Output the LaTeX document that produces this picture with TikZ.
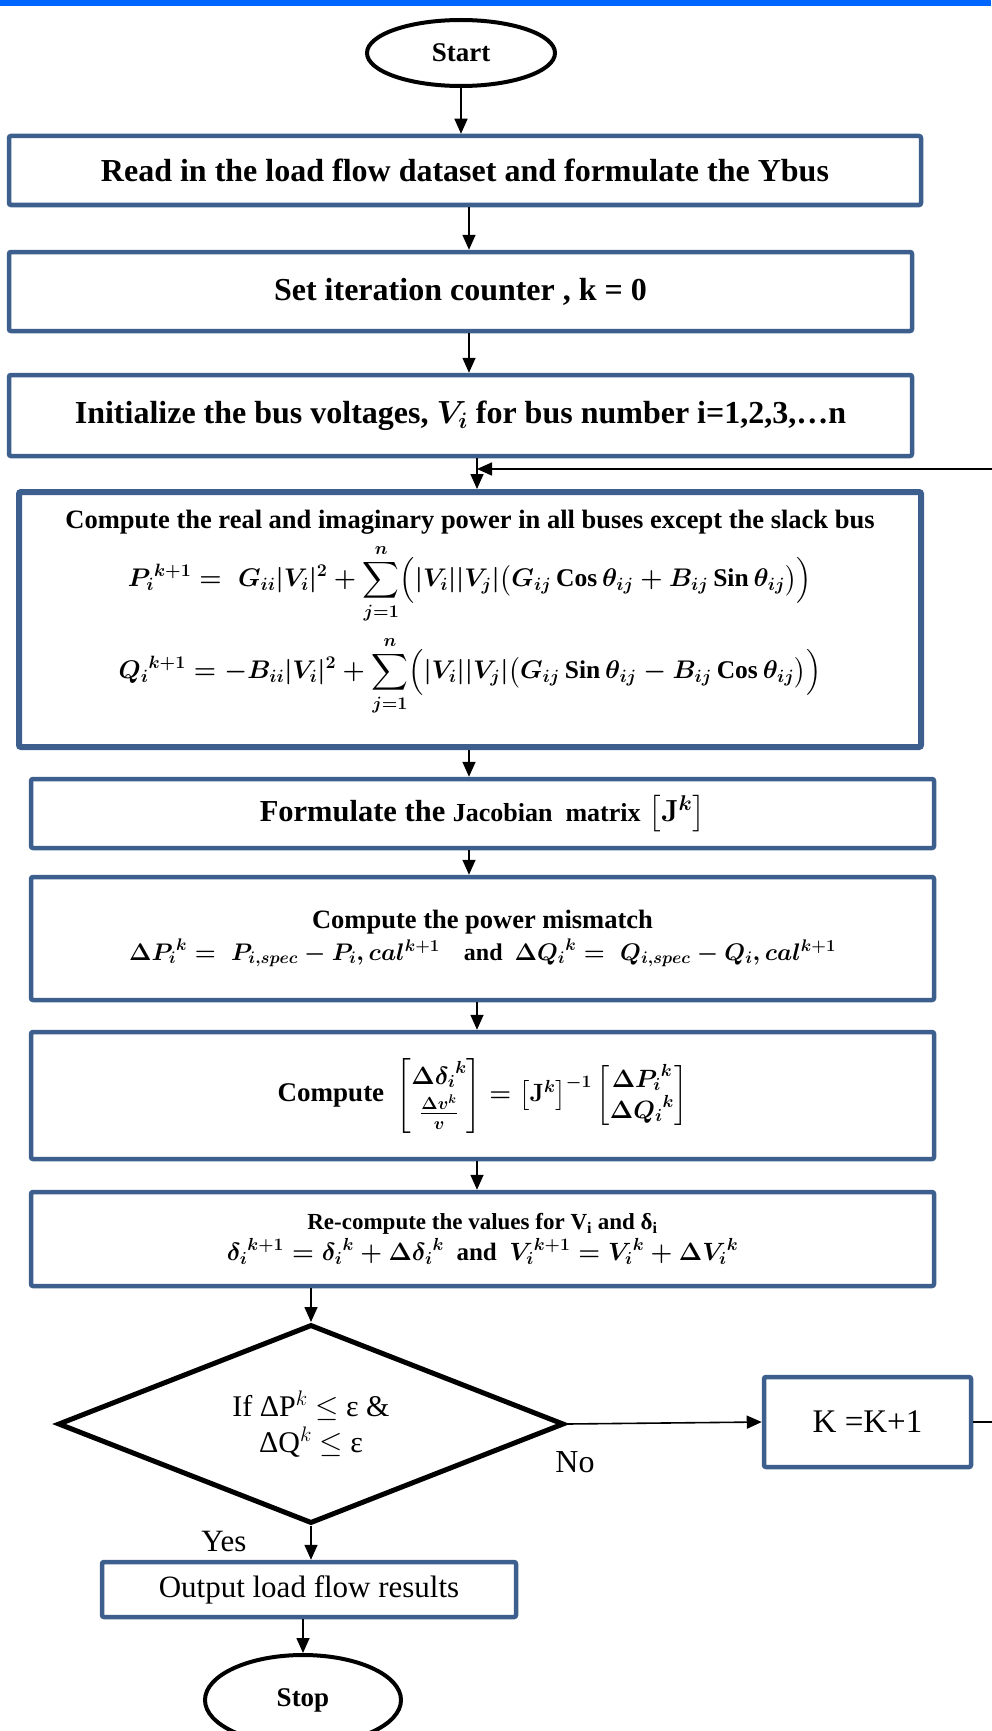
\documentclass[tikz,border=0pt]{standalone}
\usepackage{fix-cm}
\usepackage{amsmath,amssymb}
\usepackage{fontspec}
\setmainfont{Liberation Serif}
\usetikzlibrary{arrows.meta,shapes.geometric}
\definecolor{boxblue}{HTML}{3C5F8E}
\definecolor{barblue}{HTML}{0066FF}
\tikzset{
  stepbox/.style={
    draw=boxblue,
    line width=4.5pt,
    rounded corners=2pt,
    fill=white,
    align=center,
    inner sep=0pt,
    font=\bfseries\boldmath
  },
  termin/.style={
    shape=ellipse,
    draw,
    line width=4pt,
    inner sep=0pt,
    font=\fontsize{27}{30}\selectfont\bfseries
  },
  decision/.style={
    shape=diamond,
    shape aspect=2.5,
    draw,
    line width=5pt,
    inner sep=0pt,
    align=center,
    font=\fontsize{30}{36}\selectfont
  },
  eqline/.style={
    inner sep=0pt,
    font=\fontsize{25.5}{30}\selectfont\bfseries\boldmath
  },
  flow/.style={
    line width=1.6pt,
    -{Triangle[length=15pt,width=13pt]}
  },
  every picture/.style={
    x=1pt,
    y=-1pt
  }
}
\begin{document}
\begin{tikzpicture}
  \useasboundingbox (0,0) rectangle (991,1731);
  \fill[barblue] (0,0) rectangle (991,6);
  % columns for the arrows
  \coordinate (c1) at (469,0);
  \coordinate (c2) at (477,0);
  \coordinate (join) at (477,469);
  \coordinate (loopR) at (1000,469);

  \node[termin,minimum width=188pt,minimum height=66pt] (start) at (461,53) {Start};
  \node[stepbox,minimum width=912pt,minimum height=69pt,font=\fontsize{32}{36}\selectfont\bfseries] (b1) at (465,170.5)
    {Read in the load flow dataset and formulate the Ybus};
  \node[stepbox,minimum width=903pt,minimum height=79pt,font=\fontsize{32}{36}\selectfont\bfseries\boldmath] (b2) at (460.5,291.5)
    {Set iteration counter , k = 0};
  \node[stepbox,minimum width=903pt,minimum height=81pt,font=\fontsize{32}{36}\selectfont\bfseries\boldmath] (b3) at (460.5,415.5)
    {Initialize the bus voltages, $V_i$ for bus number i=1,2,3,\dots n};
  \node[stepbox,line width=6pt,minimum width=902pt,minimum height=255pt] (b4) at (470,619.5) {};
  \node[eqline,font=\fontsize{26.5}{30}\selectfont\bfseries] (h4) at (470,522)
    {Compute the real and imaginary power in all buses except the slack bus};
  \node[eqline] (p4) at (470,584)
    {$\displaystyle {P_i}^{k+1} = \; G_{ii}|V_i|^2 + \sum_{j=1}^{n}\Bigl(|V_i||V_j|\bigl(G_{ij}\,\mathrm{Cos}\,\theta_{ij} + B_{ij}\,\mathrm{Sin}\,\theta_{ij}\bigr)\Bigr)$};
  \node[eqline] (q4) at (470,676)
    {$\displaystyle {Q_i}^{k+1} = -B_{ii}|V_i|^2 + \sum_{j=1}^{n}\Bigl(|V_i||V_j|\bigl(G_{ij}\,\mathrm{Sin}\,\theta_{ij} - B_{ij}\,\mathrm{Cos}\,\theta_{ij}\bigr)\Bigr)$};
  \node[stepbox,minimum width=903pt,minimum height=69pt,font=\fontsize{30.5}{34}\selectfont\bfseries\boldmath] (b5) at (482.5,813.5)
    {Formulate the {\fontsize{26}{30}\selectfont Jacobian\ \ matrix} $\bigl[\mathbf{J}^{k}\bigr]$};
  \node[stepbox,minimum width=903pt,minimum height=123pt,font=\fontsize{24}{32}\selectfont\bfseries\boldmath] (b6) at (482.5,938.5)
    {{\fontsize{26.5}{30}\selectfont Compute the power mismatch}\\
     $\Delta {P_i}^{k} = \; P_{i,spec} - P_i, cal^{k+1}$\quad and \ $\Delta {Q_i}^{k} = \; Q_{i,spec} - Q_i, cal^{k+1}$};
  \node[stepbox,minimum width=903pt,minimum height=127pt,font=\fontsize{25}{28}\selectfont\bfseries\boldmath] (b7) at (482.5,1095.5)
    {{\fontsize{27}{30}\selectfont Compute} \ $\begin{bmatrix}\Delta{\delta_i}^{k}\\[2pt] \frac{\Delta v^k}{v}\end{bmatrix} = \bigl[\mathbf{J}^{k}\bigr]^{-1}\begin{bmatrix}\Delta {P_i}^{k}\\ \Delta {Q_i}^{k}\end{bmatrix}$};
  \node[stepbox,minimum width=903pt,minimum height=94pt,font=\fontsize{25}{31}\selectfont\bfseries\boldmath] (b8) at (482.5,1239)
    {{\fontsize{23}{26}\selectfont Re-compute the values for V$_{\mathrm{i}}$ and δ$_{\mathrm{i}}$}\\
     ${\delta_i}^{k+1} = {\delta_i}^{k} + \Delta{\delta_i}^{k}$ \ and \ ${V_i}^{k+1} = {V_i}^{k} + \Delta{V_i}^{k}$};
  \node[decision,minimum width=506pt,minimum height=199pt] (test) at (311,1424)
    {If ΔP$^{k}$ $\leq$ ε \&\\ΔQ$^{k}$ $\leq$ ε};
  \node[stepbox,minimum width=207pt,minimum height=90pt,font=\fontsize{33}{36}\selectfont] (kbox) at (867.5,1422) {K =K+1};
  \node[stepbox,minimum width=414pt,minimum height=55pt,font=\fontsize{31}{34}\selectfont] (out) at (309,1589.5)
    {\raisebox{-5pt}{Output load flow results}};
  \node[termin,minimum width=196pt,minimum height=90pt] (stop) at (303,1700) {Stop};

  \node[font=\fontsize{32}{36}\selectfont] (no) at (575,1462) {No};
  \node[font=\fontsize{31}{36}\selectfont] (yes) at (224,1541) {Yes};

  % connectors
  \draw[flow] (start) -- (start |- b1.north);
  \foreach \a/\b/\c in {b1/b2/c1,b2/b3/c1,b3/b4/c2,b4/b5/c1,b5/b6/c1,b6/b7/c2,b7/b8/c2}{
    \draw[flow] (\a.south -| \c) -- (\b.north -| \c);
  }
  \draw[flow] (b8.south -| test.north) -- (test.north);
  \draw[flow] (test.east) -- (kbox.west);
  \draw[flow] (kbox.east) -| (loopR) -- (join);
  \draw[flow] (test.south) -- (test.south |- out.north);
  \draw[flow] (out.south -| stop.north) -- (stop.north);
\end{tikzpicture}
\end{document}
